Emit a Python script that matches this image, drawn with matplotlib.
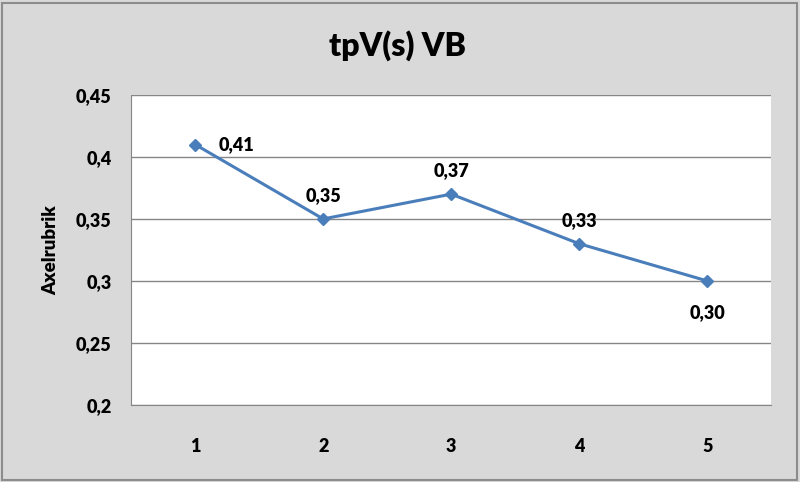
import matplotlib.pyplot as plt
from matplotlib.patches import Rectangle

x_values = [1, 2, 3, 4, 5]
y_values = [0.41, 0.35, 0.37, 0.33, 0.30]
point_labels = ['0,41', '0,35', '0,37', '0,33', '0,30']
y_ticks = [0.2, 0.25, 0.3, 0.35, 0.4, 0.45]
y_tick_labels = ['0,2', '0,25', '0,3', '0,35', '0,4', '0,45']

plt.rcParams['font.family'] = ['Lato', 'DejaVu Sans']
plt.rcParams['font.weight'] = 'heavy'

fig = plt.figure(figsize=(8, 4.82), dpi=100)
fig.patch.set_facecolor('#d9d9d9')
fig.patches.append(Rectangle((0.003, 0.004), 0.993, 0.99, transform=fig.transFigure,
                             fill=False, edgecolor='#8c8c8c', linewidth=1.5))

ax = fig.add_axes([0.164, 0.16, 0.8, 0.643])
ax.set_facecolor('white')
ax.plot(x_values, y_values, color='#4a7ebb', linewidth=2.2, marker='D',
        markersize=6.5, zorder=3)

# data labels, placed like the Excel chart
offsets = [(30, 0), (0, 17), (0, 17), (0, 17), (0, -23)]
for xv, yv, lab, off in zip(x_values, y_values, point_labels, offsets):
    ax.annotate(lab, (xv, yv), xytext=off, textcoords='offset points',
                ha='center', va='center', fontsize=13, fontweight='heavy')

ax.set_xlim(0.5, 5.5)
ax.set_ylim(0.2, 0.45)
ax.set_xticks(x_values)
ax.set_yticks(y_ticks)
ax.set_yticklabels(y_tick_labels)
ax.tick_params(axis='both', length=0, labelsize=13)
ax.tick_params(axis='x', pad=24)
ax.tick_params(axis='y', pad=14)
for lbl in ax.get_xticklabels() + ax.get_yticklabels():
    lbl.set_fontweight('heavy')
ax.grid(axis='y', color='#868686', linewidth=1)
ax.set_axisbelow(True)
for side in ['top', 'right']:
    ax.spines[side].set_visible(False)
for side in ['left', 'bottom']:
    ax.spines[side].set_color('#868686')
ax.set_ylabel('Axelrubrik', fontsize=13.5, fontweight='heavy', labelpad=12)

fig.text(0.497, 0.905, 'tpV(s) VB', ha='center', va='center', fontsize=23,
         fontweight='heavy')

fig.savefig('out.png', dpi=100, facecolor=fig.get_facecolor())
